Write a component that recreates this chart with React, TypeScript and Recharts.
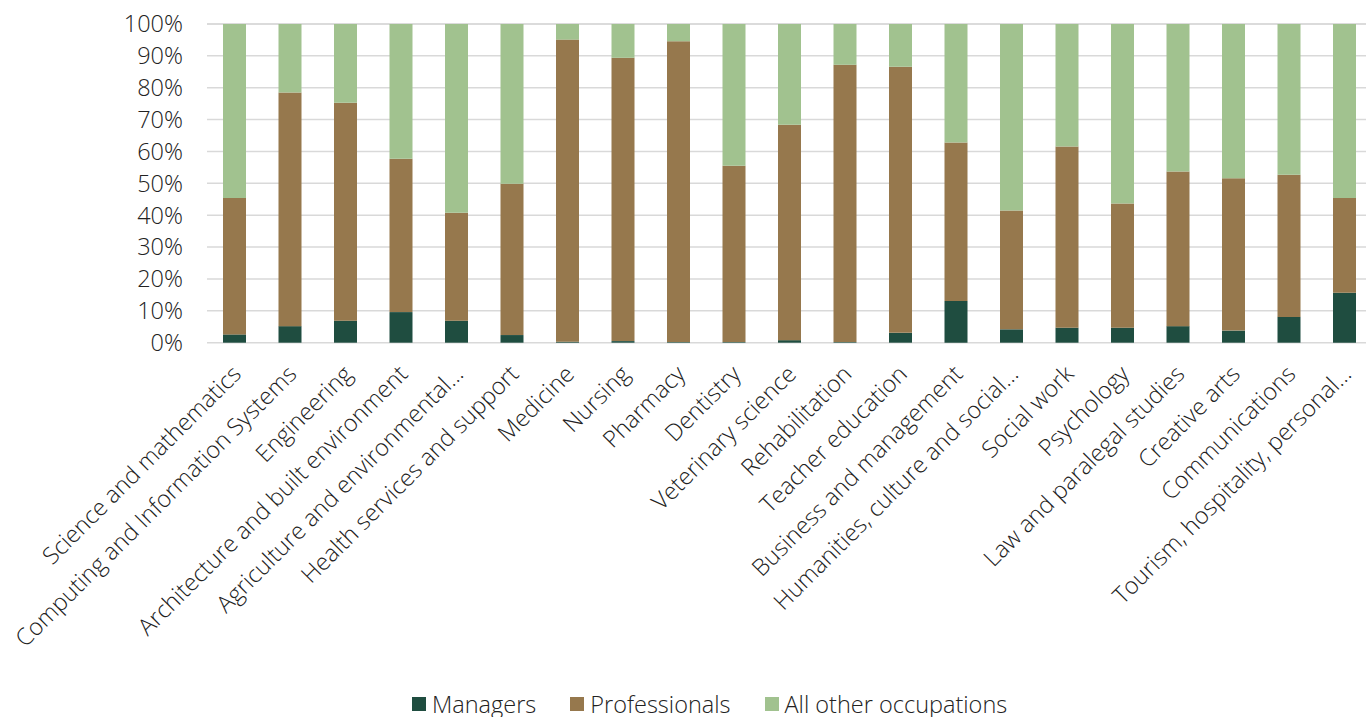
import { BarChart, Bar, XAxis, YAxis, CartesianGrid, Legend } from "recharts";

const categories = [
  "Science and mathematics",
  "Computing and Information Systems",
  "Engineering",
  "Architecture and built environment",
  "Agriculture and environmental…",
  "Health services and support",
  "Medicine",
  "Nursing",
  "Pharmacy",
  "Dentistry",
  "Veterinary science",
  "Rehabilitation",
  "Teacher education",
  "Business and management",
  "Humanities, culture and social…",
  "Social work",
  "Psychology",
  "Law and paralegal studies",
  "Creative arts",
  "Communications",
  "Tourism, hospitality, personal…",
];

const managers = [
  2.6, 5.2, 6.9, 9.6, 6.9, 2.4, 0.3, 0.5, 0.2, 0.2, 0.8, 0.2, 3.1, 13.1, 4.2,
  4.7, 4.7, 5.2, 3.8, 8.1, 15.7,
];
const professionals = [
  42.8, 73.3, 68.4, 48.1, 33.9, 47.5, 94.8, 88.9, 94.4, 55.3, 67.6, 87.0, 83.5,
  49.7, 37.3, 56.9, 39.0, 48.5, 47.8, 44.6, 29.7,
];
const otherOccupations = [
  54.6, 21.5, 24.7, 42.3, 59.2, 50.1, 4.9, 10.6, 5.4, 44.5, 31.6, 12.8, 13.4,
  37.2, 58.5, 38.4, 56.3, 46.3, 48.4, 47.3, 54.6,
];
const yTicks = [0, 10, 20, 30, 40, 50, 60, 70, 80, 90, 100];

const SERIES = [
  { key: "managers", label: "Managers", color: "#1f4d40" },
  { key: "professionals", label: "Professionals", color: "#96784d" },
  { key: "others", label: "All other occupations", color: "#a1c28f" },
];

const FONT = "'Open Sans', sans-serif";
const TEXT = "#222222";
const FONT_SIZE = 23.5;

const data = categories.map((name, i) => ({
  name,
  managers: managers[i],
  professionals: professionals[i],
  others: otherOccupations[i],
}));

function CategoryTick({ x, y, payload }: any) {
  return (
    <g transform={`translate(${x + 2},${y + 27})`}>
      <text
        transform="rotate(-45)"
        textAnchor="end"
        dy="0.35em"
        fontSize={FONT_SIZE}
        fontWeight={300}
        fontFamily={FONT}
        fill={TEXT}
      >
        {payload.value}
      </text>
    </g>
  );
}

function LegendContent() {
  return (
    <div
      style={{
        height: 26,
        display: "flex",
        alignItems: "center",
        paddingLeft: 412,
        fontFamily: FONT,
        fontWeight: 300,
        fontSize: FONT_SIZE,
        lineHeight: "26px",
        color: TEXT,
      }}
    >
      {SERIES.map((s) => (
        <div
          key={s.key}
          style={{ display: "flex", alignItems: "center", marginRight: 34 }}
        >
          <span
            style={{
              width: 14,
              height: 14,
              background: s.color,
              marginRight: 6,
              display: "inline-block",
            }}
          />
          <span>{s.label}</span>
        </div>
      ))}
    </div>
  );
}

export default function App() {
  return (
    <div
      style={{
        position: "absolute",
        left: 0,
        top: 0,
        width: 1366,
        height: 717,
        overflow: "hidden",
        background: "#fff",
      }}
    >
      <BarChart
        width={1380}
        height={717}
        data={data}
        margin={{ top: 24, right: 7.5, bottom: 0, left: 0 }}
        barSize={23}
      >
        <CartesianGrid vertical={false} stroke="#d9d9d9" strokeWidth={1.5} />
        <XAxis
          dataKey="name"
          interval={0}
          axisLine={false}
          tickLine={false}
          tickSize={0}
          tickMargin={0}
          height={348.3}
          tick={<CategoryTick />}
        />
        <YAxis
          width={207}
          domain={[0, 100]}
          ticks={yTicks}
          interval={0}
          axisLine={false}
          tickLine={false}
          tickSize={0}
          tickMargin={24}
          tickFormatter={(v: number) => `${v}%`}
          tick={{
            fontSize: FONT_SIZE,
            fontWeight: 300,
            fontFamily: FONT,
            fill: TEXT,
          }}
        />
        <Legend verticalAlign="bottom" content={<LegendContent />} />
        {SERIES.map((s) => (
          <Bar
            key={s.key}
            dataKey={s.key}
            name={s.label}
            stackId="a"
            fill={s.color}
            isAnimationActive={false}
          />
        ))}
      </BarChart>
    </div>
  );
}
